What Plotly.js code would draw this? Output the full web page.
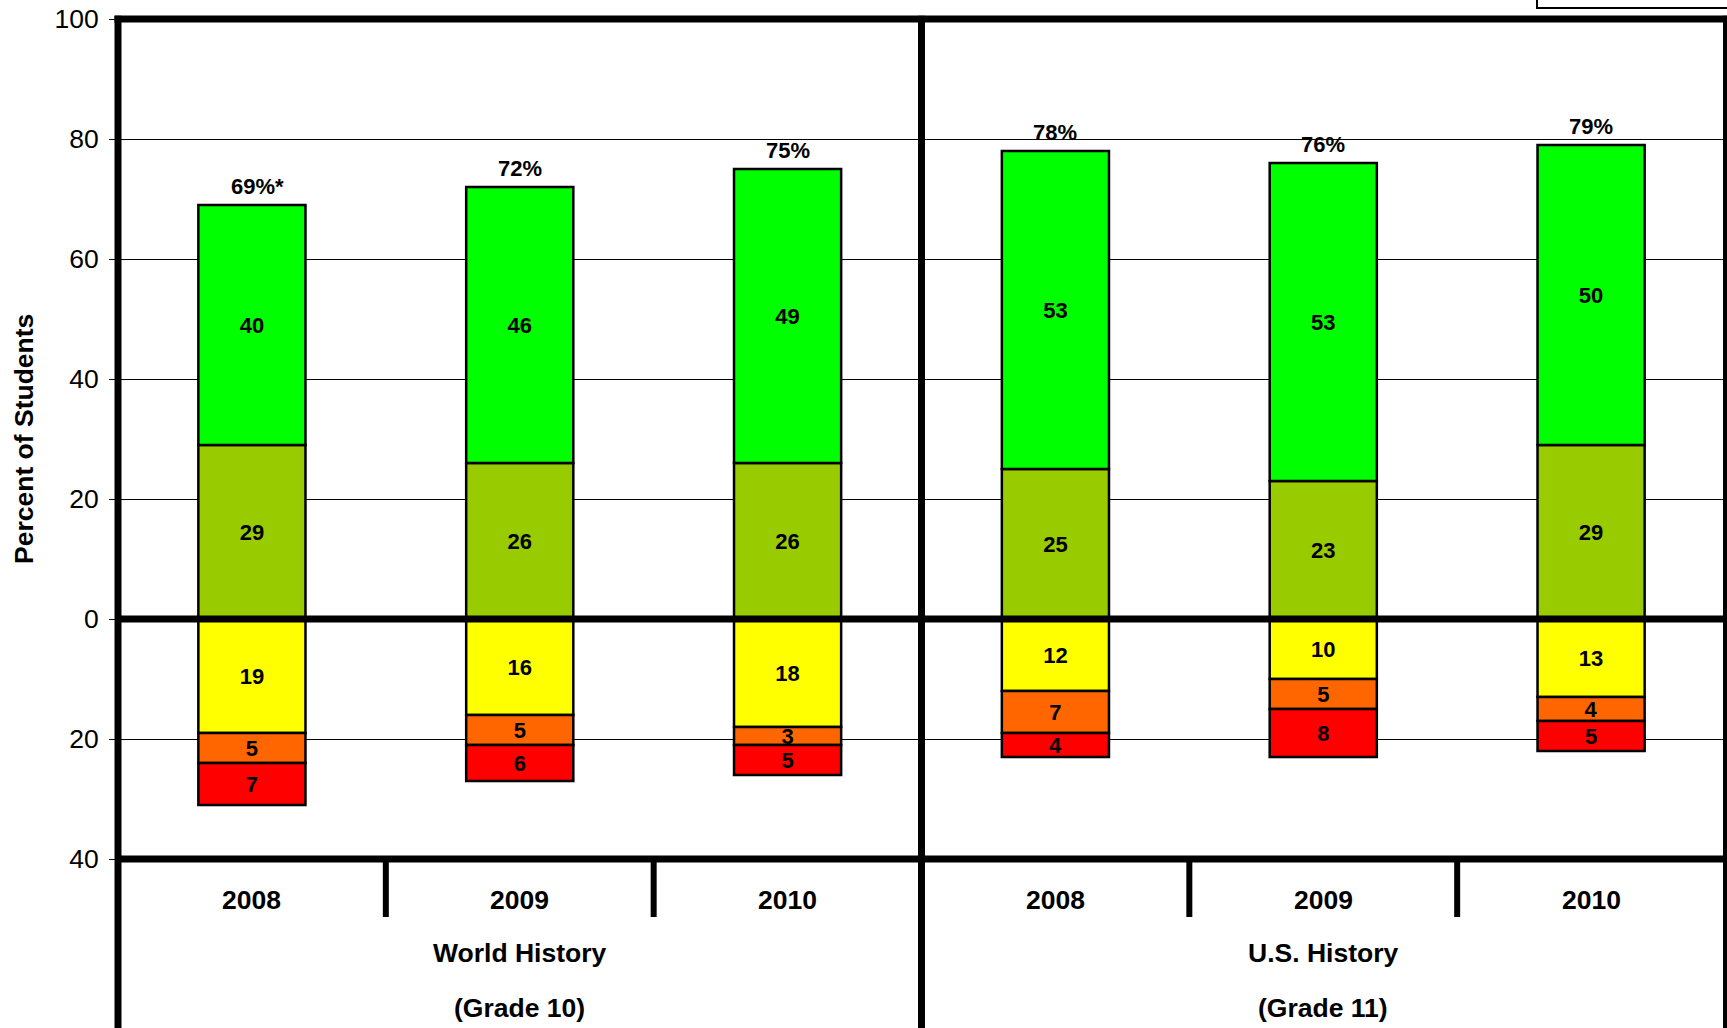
<!DOCTYPE html>
<html>
<head>
<meta charset="utf-8">
<script src="https://cdn.plot.ly/plotly-3.0.1.min.js"></script>
<style>
  html, body { margin: 0; padding: 0; background: #ffffff; }
  #chart { width: 1727px; height: 1028px; }
</style>
</head>
<body>
<div id="chart"></div>
<script>
// ---- data ----
const groups = ['World History', 'World History', 'World History', 'U.S. History', 'U.S. History', 'U.S. History'];
const years = ['2008', '2009', '2010', '2008', '2009', '2010'];
const groupLabels = ['World History', 'U.S. History'];
const gradeLabels = ['(Grade 10)', '(Grade 11)'];
const advanced = [40, 46, 49, 53, 53, 50];      // bright green
const proficient = [29, 26, 26, 25, 23, 29];    // olive green
const basic = [19, 16, 18, 12, 10, 13];         // yellow (below 0)
const belowBasic = [5, 5, 3, 7, 5, 4];          // orange (below 0)
const farBelow = [7, 6, 5, 4, 8, 5];            // red (below 0)
const totalLabels = ['69%*', '72%', '75%', '78%', '76%', '79%'];
const yTickVals = [-40, -20, 0, 20, 40, 60, 80, 100];
const yTickText = ['40', '20', '0', '20', '40', '60', '80', '100'];

const cats = groups.map((g, i) => g + ' ' + years[i]);
const totals = proficient.map((v, i) => v + advanced[i]);

const FONT = 'Liberation Sans, Arial, Helvetica, sans-serif';
const LABEL_SIZE = 22;
const AXIS_SIZE = 26.5;
const barLine = { color: '#000000', width: 2.5 };

function barTrace(vals, color, negative) {
  return {
    type: 'bar',
    x: cats,
    y: vals.map(v => negative ? -v : v),
    text: vals.map(String),
    texttemplate: '%{text}',
    textposition: 'inside',
    insidetextanchor: 'middle',
    textangle: 0,
    constraintext: 'none',
    textfont: { family: FONT, size: LABEL_SIZE, color: '#000000', weight: 'bold' },
    marker: { color: color, line: barLine },
    width: 0.4,
    hoverinfo: 'skip',
    showlegend: false
  };
}

const data = [
  barTrace(proficient, '#99CC00', false),
  barTrace(advanced, '#00FF00', false),
  barTrace(basic, '#FFFF00', true),
  barTrace(belowBasic, '#FF6600', true),
  barTrace(farBelow, '#FF0000', true)
];

const L = 118, R = 2, T = 19, B = 169;
const plotW = 1727 - L - R, plotH = 1028 - T - B;
const py = px => (1028 - B - px) / plotH;   // pixel y -> paper y
const pxx = px => (px - L) / plotW;          // pixel x -> paper x

const thick = { color: '#000000', width: 7 };
const shapes = [
  // outer frame
  { type: 'line', xref: 'paper', yref: 'paper', x0: pxx(114.5), x1: 1.02, y0: 1, y1: 1, line: thick },
  { type: 'line', xref: 'paper', yref: 'paper', x0: 0, x1: 0, y0: 1.004, y1: py(1030), line: thick },
  { type: 'line', xref: 'paper', yref: 'paper', x0: pxx(1725), x1: pxx(1725), y0: 1.004, y1: py(1030), line: { color: '#000000', width: 4 } },
  // zero line and bottom axis line
  { type: 'line', xref: 'paper', yref: 'y', x0: 0, x1: 1, y0: 0, y1: 0, line: thick },
  { type: 'line', xref: 'paper', yref: 'paper', x0: 0, x1: 1, y0: 0, y1: 0, line: thick },
  // group divider
  { type: 'line', xref: 'x', yref: 'paper', x0: 2.5, x1: 2.5, y0: 1.004, y1: py(1030), line: thick },
  // category separators
  ...[0.5, 1.5, 3.5, 4.5].map(x => ({
    type: 'line', xref: 'x', yref: 'paper', x0: x, x1: x, y0: 0, y1: py(917), line: { color: '#000000', width: 6 }
  })),
  // legend box fragment at top right
  { type: 'rect', xref: 'paper', yref: 'paper', x0: pxx(1537), x1: 1.05, y0: py(8), y1: 1.1, line: { color: '#000000', width: 2 }, fillcolor: 'rgba(0,0,0,0)' }
];

const annotations = [];
// totals above the bars (a trailing footnote mark hangs past the centred value)
cats.forEach((c, i) => {
  const hasMark = totalLabels[i].endsWith('*');
  annotations.push({
    x: c, xref: 'x', y: totals[i], yref: 'y', text: totalLabels[i], showarrow: false,
    xanchor: 'center', yanchor: 'middle', yshift: 19, xshift: hasMark ? 6 : 0,
    font: { family: FONT, size: LABEL_SIZE, color: '#000000', weight: 'bold' }
  });
});
cats.forEach((c, i) => {
  annotations.push({
    x: c, xref: 'x', y: py(900), yref: 'paper', text: years[i], showarrow: false,
    xanchor: 'center', yanchor: 'middle',
    font: { family: FONT, size: AXIS_SIZE, color: '#000000', weight: 'bold' }
  });
});
groupLabels.forEach((g, gi) => {
  const mid = cats[gi * 3 + 1];
  annotations.push({
    x: mid, xref: 'x', y: py(953), yref: 'paper', text: g, showarrow: false,
    xanchor: 'center', yanchor: 'middle',
    font: { family: FONT, size: AXIS_SIZE, color: '#000000', weight: 'bold' }
  });
  annotations.push({
    x: mid, xref: 'x', y: py(1008), yref: 'paper', text: gradeLabels[gi], showarrow: false,
    xanchor: 'center', yanchor: 'middle',
    font: { family: FONT, size: AXIS_SIZE, color: '#000000', weight: 'bold' }
  });
});
annotations.push({
  x: pxx(24), xref: 'paper', y: 0.5, yref: 'paper', text: 'Percent of Students', textangle: -90,
  showarrow: false, xanchor: 'center', yanchor: 'middle',
  font: { family: FONT, size: AXIS_SIZE, color: '#000000', weight: 'bold' }
});

const layout = {
  width: 1727, height: 1028,
  margin: { l: L, r: R, t: T, b: B, pad: 0 },
  paper_bgcolor: '#ffffff', plot_bgcolor: '#ffffff',
  barmode: 'relative',
  showlegend: false,
  uniformtext: { mode: 'show', minsize: LABEL_SIZE },
  xaxis: {
    type: 'category',
    categoryorder: 'array', categoryarray: cats,
    range: [-0.5, 5.5],
    showticklabels: false, ticks: '', showgrid: false, zeroline: false, showline: false,
    fixedrange: true
  },
  yaxis: {
    range: [-40, 100],
    tickvals: yTickVals, ticktext: yTickText,
    ticks: 'outside', ticklen: 8, tickwidth: 1, tickcolor: '#000000',
    ticklabelstandoff: 5,
    tickfont: { family: FONT, size: AXIS_SIZE, color: '#000000' },
    showgrid: true, gridcolor: '#000000', gridwidth: 1,
    zeroline: false, showline: false,
    fixedrange: true
  },
  shapes: shapes,
  annotations: annotations
};

Plotly.newPlot('chart', data, layout, { displayModeBar: false, staticPlot: true });
</script>
</body>
</html>
